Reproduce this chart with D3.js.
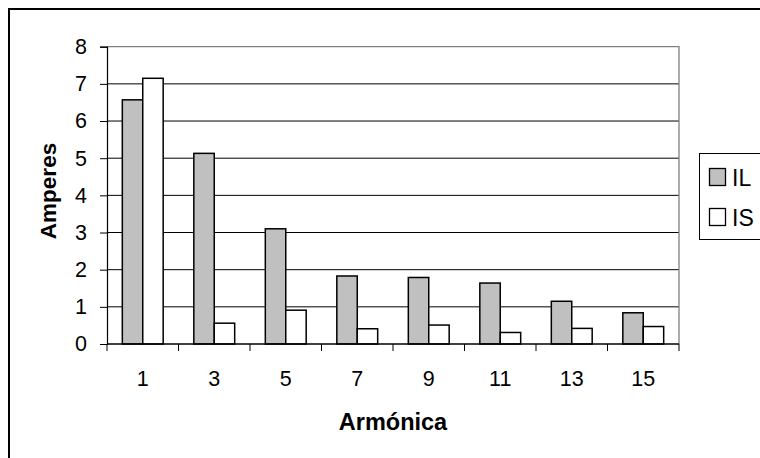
<!DOCTYPE html>
<html>
<head>
<meta charset="utf-8">
<script src="https://cdn.jsdelivr.net/npm/d3@7"></script>
<style>
  html, body { margin: 0; padding: 0; background: #fff; }
  svg { display: block; font-family: "Liberation Sans", Arial, sans-serif; }
</style>
</head>
<body>
<svg id="chart" width="760" height="458"></svg>
<script>
// Harmonic orders on the x axis
const harmonics = ["1", "3", "5", "7", "9", "11", "13", "15"];
// Current per harmonic, in amperes
const seriesIL = [6.57, 5.13, 3.10, 1.83, 1.79, 1.64, 1.15, 0.84];
const seriesIS = [7.15, 0.56, 0.91, 0.41, 0.51, 0.31, 0.42, 0.47];
const seriesNames = ["IL", "IS"];
const seriesFills = ["#c0c0c0", "#ffffff"];
const yTicks = [0, 1, 2, 3, 4, 5, 6, 7, 8];

const rows = harmonics.map((h, i) => ({ h, values: [seriesIL[i], seriesIS[i]] }));

const svg = d3.select("#chart");
const plot = { left: 107, right: 679, top: 46.7, bottom: 344 };

// Outer chart frame (extends past the right and bottom edges)
svg.append("rect")
  .attr("x", 9).attr("y", 9)
  .attr("width", 800).attr("height", 500)
  .attr("fill", "#fff").attr("stroke", "#000").attr("stroke-width", 2);

const x = d3.scaleBand().domain(harmonics).range([plot.left, plot.right]).paddingInner(0).paddingOuter(0);
const y = d3.scaleLinear().domain([0, 8]).range([plot.bottom, plot.top]);
// Two bars per group, gap width of 150% of a bar
const barW = x.bandwidth() / 3.5;
const inner = d3.scaleBand().domain(seriesNames)
  .range([(x.bandwidth() - 2 * barW) / 2, (x.bandwidth() + 2 * barW) / 2]);

// Horizontal gridlines
svg.append("g").selectAll("line")
  .data(yTicks.filter(t => t > 0 && t < 8))
  .join("line")
  .attr("x1", plot.left).attr("x2", plot.right)
  .attr("y1", d => y(d)).attr("y2", d => y(d))
  .attr("stroke", "#000").attr("stroke-width", 1);

// Plot area border (top and right)
svg.append("path")
  .attr("d", `M${plot.left},${y(8)}H${plot.right}V${plot.bottom}`)
  .attr("fill", "none").attr("stroke", "#808080").attr("stroke-width", 1.3);

// Bars
const groups = svg.append("g").selectAll("g")
  .data(rows).join("g")
  .attr("transform", d => `translate(${x(d.h)},0)`);
groups.selectAll("rect")
  .data(d => d.values.map((v, k) => ({ v, k })))
  .join("rect")
  .attr("x", d => inner(seriesNames[d.k]))
  .attr("width", inner.bandwidth())
  .attr("y", d => y(d.v))
  .attr("height", d => y(0) - y(d.v))
  .attr("fill", d => seriesFills[d.k])
  .attr("stroke", "#000").attr("stroke-width", 1.5);

// Y axis
const yAxis = svg.append("g")
  .attr("transform", `translate(${plot.left},0)`)
  .call(d3.axisLeft(y).tickValues(yTicks).tickSize(7).tickPadding(13).tickFormat(d3.format("d")));
yAxis.select(".domain").attr("stroke", "#000").attr("stroke-width", 1.2);
yAxis.selectAll(".tick line").attr("stroke", "#000");
yAxis.selectAll("text").attr("font-size", 21.5).attr("fill", "#000")
  .attr("font-family", "Liberation Sans, Arial, sans-serif");

// X axis: ticks at category boundaries, labels centred in each band
const xAxis = svg.append("g").attr("transform", `translate(0,${plot.bottom})`);
xAxis.append("line")
  .attr("x1", plot.left).attr("x2", plot.right)
  .attr("stroke", "#000").attr("stroke-width", 1.5);
const boundaries = harmonics.map(h => x(h)).concat([plot.right]);
xAxis.selectAll("line.tk").data(boundaries).join("line")
  .attr("class", "tk")
  .attr("x1", d => d).attr("x2", d => d)
  .attr("y1", 0).attr("y2", 7)
  .attr("stroke", "#000").attr("stroke-width", 1);
xAxis.selectAll("text").data(harmonics).join("text")
  .attr("x", d => x(d) + x.bandwidth() / 2)
  .attr("y", 42)
  .attr("text-anchor", "middle")
  .attr("font-size", 21.5)
  .attr("fill", "#000")
  .text(d => d);

// Axis titles
svg.append("text")
  .attr("x", (plot.left + plot.right) / 2).attr("y", 430)
  .attr("text-anchor", "middle")
  .attr("font-size", 23.5).attr("font-weight", "bold")
  .text("Armónica");
svg.append("text")
  .attr("transform", "translate(56,191) rotate(-90)")
  .attr("text-anchor", "middle")
  .attr("font-size", 22.5).attr("font-weight", "bold")
  .text("Amperes");

// Legend
const legend = svg.append("g");
legend.append("rect")
  .attr("x", 699.5).attr("y", 153.5)
  .attr("width", 100).attr("height", 86)
  .attr("fill", "#fff").attr("stroke", "#000").attr("stroke-width", 1);
const items = legend.selectAll("g").data(seriesNames).join("g")
  .attr("transform", (d, i) => `translate(0,${i * 40})`);
items.append("rect")
  .attr("x", 709.5).attr("y", 168.5)
  .attr("width", 16).attr("height", 17)
  .attr("fill", (d, i) => seriesFills[i])
  .attr("stroke", "#000").attr("stroke-width", 1.3);
items.append("text")
  .attr("x", 732).attr("y", 185.5)
  .attr("font-size", 23).attr("fill", "#000")
  .text(d => d);
</script>
</body>
</html>
